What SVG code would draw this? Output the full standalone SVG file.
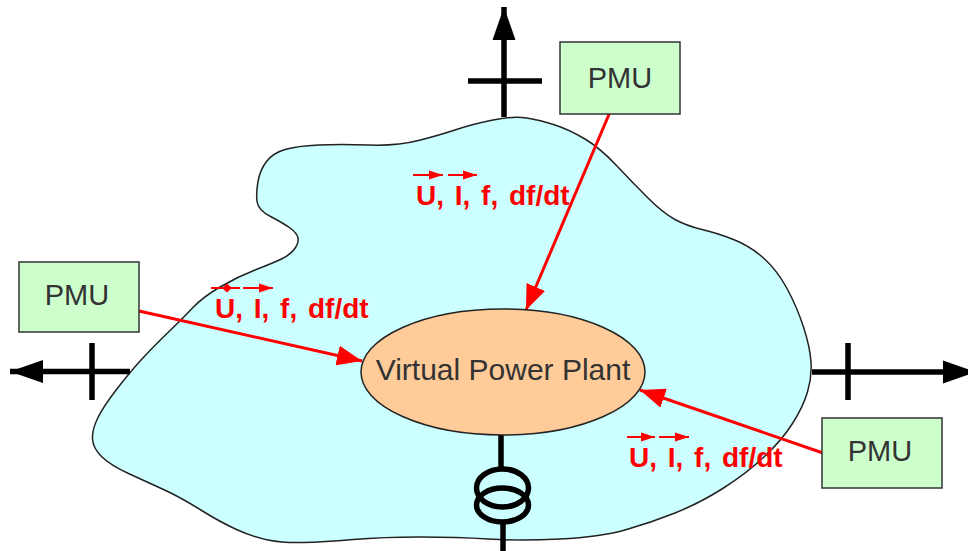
<svg xmlns="http://www.w3.org/2000/svg" width="968" height="551" viewBox="0 0 968 551">
<defs>
<marker id="big" markerUnits="userSpaceOnUse" markerWidth="34" markerHeight="24" refX="33" refY="12" orient="auto"><path d="M0 0.5L33 12L0 23.5Z" fill="#000"/></marker>
<marker id="red" markerUnits="userSpaceOnUse" markerWidth="26" markerHeight="20" refX="25" refY="10" orient="auto"><path d="M0 0L25 10L0 20Z" fill="#f00"/></marker>
<marker id="sm" markerUnits="userSpaceOnUse" markerWidth="15" markerHeight="10" refX="14" refY="5" orient="auto"><path d="M0 0.5L14 5L0 9.5Z" fill="#f00"/></marker>
</defs>
<style>
.b{stroke:#000;stroke-width:5.5;fill:none}
.pmu rect{fill:#ccffcc;stroke:#333;stroke-width:1.5}
text{font-family:"Liberation Sans",Arial,sans-serif}
.pmu text{font-size:29px;fill:#333;text-anchor:middle}
.lab{font-size:28px;font-weight:700;fill:#f00;word-spacing:3px}
.r{stroke:#f00;stroke-width:3;fill:none}
.v{stroke:#f00;stroke-width:2;fill:none}
.va{marker-end:url(#sm)}
</style>
<rect width="968" height="551" fill="#fff"/>
<g id="region"><path d="M220 287Q237 277 255 270Q273 263 281.5 259Q290 255 294.5 249Q299 243 298 238Q297 233 290 228Q283 223 270.5 216.5Q258 210 257 201.5Q256 193 258 181.5Q260 170 266.5 161.5Q273 153 285 149.5Q297 146 318.5 145Q340 144 368.5 145Q397 146 418.5 140.5Q440 135 456.5 129.5Q473 124 493 120Q513 116 526.5 118Q540 120 555 125Q570 130 585 139Q600 148 616.5 165.5Q633 183 648 198Q663 213 675 219.5Q687 226 702 229.5Q717 233 733.5 239.5Q750 246 763.5 258Q777 270 787 288.5Q797 307 803.5 327Q810 347 811 362Q812 377 807.5 392Q803 407 792.5 423.5Q782 440 764.5 456.5Q747 473 723.5 488Q700 503 675 513Q650 523 625 530Q600 537 560 539Q520 541 488.5 539Q457 537 420 537Q383 537 353 539.5Q323 542 303 542.5Q283 543 268 540Q253 537 236.5 529.5Q220 522 200 509.5Q180 497 163.5 489.5Q147 482 128.5 473.5Q110 465 101.5 456.5Q93 448 92.5 439Q92 430 97.5 418.5Q103 407 116.5 389.5Q130 372 141.5 359.5Q153 347 168 332.5Q183 318 193 307.5Q203 297 220 287Z" fill="#ccffff" stroke="#222" stroke-width="1.5"/></g>
<g id="connectors">
<path class="b" d="M504 117V7" marker-end="url(#big)"/>
<path class="b" d="M468 81H542"/>
<path class="b" d="M130 371.5H10" marker-end="url(#big)"/>
<path class="b" d="M92 343V400"/>
<path class="b" d="M812 372H976" marker-end="url(#big)"/>
<path class="b" d="M848 343V400"/>
<path class="b" d="M501 435V470"/>
<path class="b" d="M503 521V551"/>
<ellipse class="b" cx="502.500" cy="488" rx="26" ry="19"/>
<ellipse class="b" cx="502.500" cy="505" rx="26" ry="17"/>
<path class="r" d="M139 311L362 361" marker-end="url(#red)"/>
<path class="r" d="M610 112L526 310" marker-end="url(#red)"/>
<path class="r" d="M823 453L640 390" marker-end="url(#red)"/>
<path class="v va" d="M413 175H443"/><path class="v va" d="M448 175H477"/>
<path class="v" d="M211 288H240"/><path d="M222 288L227 283.500L232 288L227 292.500Z" fill="#f00"/><path class="v va" d="M243 288H273"/>
<path class="v va" d="M627 437H655"/><path class="v va" d="M659 437H689"/>
</g>
<g id="vpp"><ellipse cx="503" cy="372" rx="142" ry="63" fill="#ffcc99" stroke="#222" stroke-width="1.5"/><text x="503" y="380" font-size="30" fill="#333" text-anchor="middle">Virtual Power Plant</text></g>
<g id="pmu-top" class="pmu"><rect x="560" y="42" width="120" height="72"/><text x="620" y="88">PMU</text></g>
<g id="pmu-left" class="pmu"><rect x="19" y="262" width="120" height="70"/><text x="77" y="305">PMU</text></g>
<g id="pmu-right" class="pmu"><rect x="822" y="418" width="120" height="70"/><text x="880" y="461">PMU</text></g>
<text class="lab" x="416" y="205">U, I, f, df/dt</text>
<text class="lab" x="215" y="318">U, I, f, df/dt</text>
<text class="lab" x="629" y="467">U, I, f, df/dt</text>
</svg>
